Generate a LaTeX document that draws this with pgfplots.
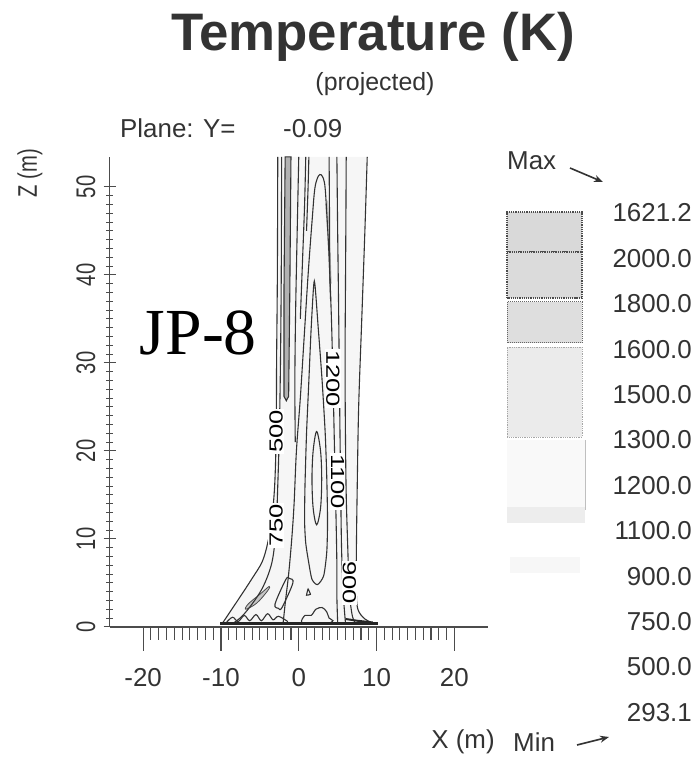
\documentclass[border=0pt]{standalone}
\usepackage{pgfplots}
\pgfplotsset{compat=1.18}
\usepackage{fontspec}
\setmainfont{Liberation Sans}
\newfontfamily\jpfont{Liberation Serif}
\newfontfamily\narrowsans[FakeStretch=0.75]{Liberation Sans}
\newfontfamily\widesans[FakeStretch=1.35]{Liberation Sans}
\usetikzlibrary{arrows.meta}

\begin{document}
\begin{tikzpicture}[x=1bp,y=1bp]
\useasboundingbox (0,0) rectangle (697,758);

% titles
\node[anchor=base, font=\fontsize{53}{60}\selectfont\bfseries, text=black!80] at (373,707) {Temperature (K)};
\node[anchor=base, font=\fontsize{25}{30}\selectfont, text=black!80] at (375,667) {(projected)};
\node[anchor=base west, inner sep=0pt, font=\fontsize{26}{30}\selectfont, text=black!80] at (120,620) {Plane: Y=};
\node[anchor=base west, inner sep=0pt, font=\fontsize{26}{30}\selectfont, text=black!80] at (283,620) {-0.09};
\node[rotate=90, font=\narrowsans\fontsize{27}{30}\selectfont, text=black!80] at (30,585) {Z (m)};
\node[anchor=base, font=\fontsize{26}{30}\selectfont, text=black!80] at (463,9) {X (m)};

% colour key
\node[anchor=base west, inner sep=0pt, font=\fontsize{26}{30}\selectfont, text=black!80] at (507,588) {Max};
\draw[-{Stealth[length=9bp,width=7bp]}, line width=1.6bp, black!80] (570,590) -- (603,576);
\node[anchor=base west, inner sep=0pt, font=\fontsize{26}{30}\selectfont, text=black!80] at (513,6) {Min};
\draw[-{Stealth[length=9bp,width=7bp]}, line width=1.6bp, black!80] (577,13) -- (609,21);

\fill[gray!30] (507,506) rectangle (582,546);
\draw[black!70, line width=1.2bp, densely dotted] (507,506) rectangle (582,546);
\fill[gray!28] (507,460) rectangle (582,506);
\draw[black!70, line width=1.2bp, densely dotted] (507,460) rectangle (582,506);
\fill[gray!26] (507,415) rectangle (582,456);
\draw[black!60, line width=1bp, densely dotted] (507,415) rectangle (582,456);
\fill[gray!16] (507,321) rectangle (582,411);
\draw[black!35, line width=0.8bp, densely dotted] (507,321) rectangle (582,411);
\fill[gray!5] (507,248) rectangle (585,318);
\draw[black!25, line width=0.8bp] (585,248) -- (585,318);
\fill[gray!14] (507,235) rectangle (585,251);
\fill[gray!6] (510,185) rectangle (580,201);

\foreach \v/\py in {1621.2/213, 2000.0/258.4, 1800.0/303.8, 1600.0/349.2, 1500.0/394.6, 1300.0/440, 1200.0/485.4, 1100.0/530.8, 900.0/576.2, 750.0/621.6, 500.0/667, 293.1/712.4}
  \node[anchor=east, inner sep=0pt, font=\fontsize{26}{30}\selectfont, text=black!80] at (692,758-\py) {\v};

\begin{axis}[
    at={(141,149)}, anchor=south west,
    x=7.78bp, y=8.8bp,
    xmin=-24.3, xmax=24.3, ymin=0, ymax=53.4,
    axis x line=bottom, axis y line=left,
    axis line style={-, line width=1.3bp, black!70},
    xtick={-20,-10,0,10,20}, xticklabels={-20,-10,0,10,20},
    ytick={0,10,20,30,40,50}, yticklabels={0,10,20,30,40,50},
    minor x tick num=9, minor y tick num=9,
    xtick align=outside, ytick align=center,
    x tick style={line width=1.1bp, black!70, /pgfplots/major tick length=24bp, /pgfplots/minor tick length=13bp},
    y tick style={line width=1.1bp, black!70, /pgfplots/major tick length=12bp, /pgfplots/minor tick length=7bp},
    xticklabel style={font=\fontsize{26}{30}\selectfont, text=black!80, anchor=north, inner sep=0pt},
    xticklabel shift=37bp,
    yticklabel style={font=\narrowsans\fontsize{27}{30}\selectfont, text=black!80, rotate=90, anchor=south, inner sep=0pt},
    yticklabel shift=12bp,
    clip=false,
    cline/.style={smooth, tension=0.55, line width=1.1bp, black!80},
    loop/.style={smooth cycle, tension=0.55, line width=1.1bp, black!80},
]
% light speckle inside the plume
\addplot[fill=gray!7, draw=none] coordinates {
  (-2.7,53.4) (-2.75,40) (-2.85,30) (-2.9,22) (-3.1,16) (-3.5,12) (-4.0,9.5) (-4.7,7.4) (-6.0,5.5) (-7.7,3.2) (-9.9,0.3)
  (9.9,0.3) (8.5,0.9) (7.6,2) (7.4,4) (7.4,8) (7.5,15) (7.7,25) (8.1,35) (8.5,45) (8.8,53.4)
};
% dark band of packed contours
\addplot[fill=gray!60, draw=black!80, line width=1.1bp] coordinates {
  (-1.9,26.2) (-1.9,38) (-1.75,53.4) (-1.0,53.4) (-1.15,38) (-1.3,26.2) (-1.6,25.7)
} -- cycle;
\addplot[fill=gray!45, draw=none] coordinates {
  (3.4,48) (3.7,44) (3.95,39) (4.25,39) (4.0,44) (3.75,48.5)
} -- cycle;
% gray sliver near the base
\addplot[fill=gray!45, draw=black!70, line width=0.8bp, smooth cycle, tension=0.6] coordinates {
  (-6.8,2.0) (-5.4,2.7) (-4.0,4.1) (-3.8,4.6) (-5.0,3.7) (-6.5,2.6)
};

% 500 (outer left)
\addplot[cline] coordinates {
  (-2.7,53.4) (-2.75,40) (-2.85,30) (-2.9,22) (-3.1,16) (-3.5,12) (-4.0,9.5) (-4.7,7.4) (-6.0,5.5) (-7.7,3.2) (-9.9,0.3)
};
% 750
\addplot[cline] coordinates {
  (-2.2,53.4) (-2.25,40) (-2.35,30) (-2.5,22) (-2.7,16) (-2.9,11.5) (-3.3,8) (-3.9,6) (-4.8,4.2) (-6.0,2.6) (-7.3,1.2) (-8.6,0.3)
};
% lines entering from the top on the left of the core
\addplot[cline] coordinates {(0,53.4) (-0.2,45) (-0.4,36) (-0.5,28) (-0.45,21)};
\addplot[cline] coordinates {(0.9,53.4) (0.75,48) (0.5,42) (0.2,35)};
\addplot[cline] coordinates {(1.3,53.4) (1.2,50) (1.0,45)};
% 1200 (tall inverted U)
\addplot[cline] coordinates {
  (-2.0,0.5) (-1.7,3) (-1.3,6) (-0.9,10) (-0.6,14) (-0.3,20) (0.2,26) (0.7,33) (1.2,40) (1.7,46) (2.1,50) (2.7,51.4)
  (3.3,50.5) (3.6,47) (3.9,42) (4.2,35) (4.4,28) (4.6,20) (4.8,12) (4.9,7) (4.9,3.5) (5.0,0.5)
};
\addplot[cline] coordinates {(3.9,53.4) (3.95,47) (4.0,40) (4.1,37)};
% 1100 (inner pointed loop)
\addplot[loop, tension=0.4] coordinates {
  (2.0,39.3) (2.5,34) (3.0,28) (3.4,22) (3.6,17) (3.7,12) (3.6,8.5) (3.2,5.8) (2.4,4.8) (1.7,5.4)
  (1.3,7.2) (0.9,9.5) (0.75,12) (0.8,16) (1.0,22) (1.3,28) (1.6,34)
};
% lens
\addplot[loop] coordinates {
  (2.3,22.2) (2.8,20) (2.95,16.8) (2.8,13.5) (2.3,11.6) (1.85,13.5) (1.7,16.8) (1.85,20)
};
% right side lines
\addplot[cline] coordinates {(4.9,53.4) (5.0,45) (5.1,38) (5.2,30) (5.3,22) (5.4,15) (5.5,9) (5.7,4) (6.0,0.5)};
\addplot[cline] coordinates {(6.1,53.4) (6.05,45) (6.0,38) (5.95,30) (6.0,22) (6.1,15) (6.3,9) (6.5,4) (6.9,1.2) (7.4,0.3)};
\addplot[cline] coordinates {(8.8,53.4) (8.5,45) (8.1,35) (7.7,25) (7.5,15) (7.4,8) (7.4,4) (7.6,2) (8.5,0.9) (9.9,0.3)};

% small closed shapes near the base
\addplot[loop] coordinates {(-2.15,2.2) (-0.75,5.0) (-1.2,5.5) (-1.65,5.4) (-3.05,2.6) (-2.6,2.1)};
\addplot[loop, tension=0.2] coordinates {(1.0,3.6) (1.5,3.7) (1.2,4.3)};
\addplot[loop] coordinates {(0.4,0.5) (0.8,1.3) (1.6,1.3) (2.2,2.0) (3.0,2.2) (3.6,1.7) (3.9,1.0) (4.4,0.7) (3.8,0.4) (2.2,0.4)};
\addplot[cline] coordinates {(-9.3,0.5) (-8.5,1.1) (-7.8,0.6) (-7.0,1.3) (-6.3,0.7) (-5.5,1.4) (-4.8,0.7) (-4.0,1.5) (-3.3,0.8) (-2.6,1.2) (-1.4,0.6)};
\addplot[black!85, line width=3bp] coordinates {(-10.1,0.35) (10.2,0.35)};
\addplot[black!85, line width=2bp] coordinates {(6.0,0.9) (7.5,0.7) (9.5,0.5)};

% contour labels
\node[fill=white, inner sep=1bp, rotate=90, font=\widesans\fontsize{19}{20}\selectfont] at (axis cs:-2.9,22.2) {500};
\node[fill=white, inner sep=1bp, rotate=90, font=\widesans\fontsize{19}{20}\selectfont] at (axis cs:-2.9,11.5) {750};
\node[fill=white, inner sep=1bp, rotate=-90, font=\widesans\fontsize{19}{20}\selectfont] at (axis cs:4.4,28.2) {1200};
\node[fill=white, inner sep=1bp, rotate=-90, font=\widesans\fontsize{19}{20}\selectfont] at (axis cs:5.0,16.5) {1100};
\node[fill=white, inner sep=1bp, rotate=-90, font=\widesans\fontsize{19}{20}\selectfont] at (axis cs:6.5,5.0) {900};

\node[anchor=base, inner sep=0pt, font=\jpfont\fontsize{66}{70}\selectfont] at (axis cs:-12.9,30.9) {JP-8};
\end{axis}
\end{tikzpicture}
\end{document}
